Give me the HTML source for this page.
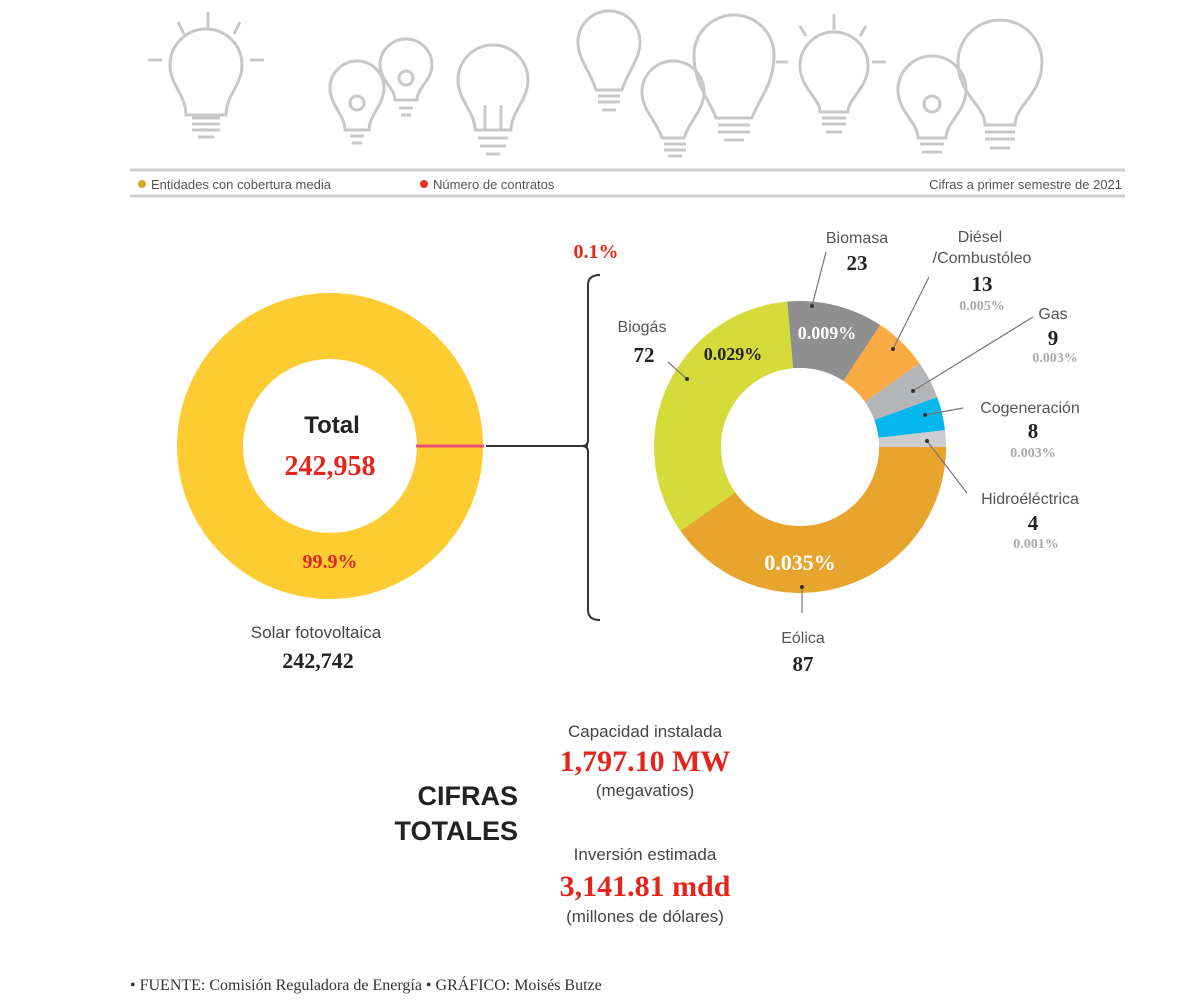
<!DOCTYPE html>
<html><head><meta charset="utf-8"><style>
body{margin:0;width:1200px;height:1000px;background:#fff;overflow:hidden}
svg text{font-family:"Liberation Sans",sans-serif}
svg text.s, svg .s text{font-family:"Liberation Serif",serif;font-weight:bold}
</style></head><body>
<svg width="1200" height="1000" viewBox="0 0 1200 1000">
<g fill="none" stroke="#c8c8c8" stroke-width="3">
 <path d="M186,115 C186,95 170,85 170,65 A36,36 0 1 1 242,65 C242,85 226,95 226,115 Z"/><path d="M192,118h28M192,124h28M192,130h28M198,137h16"/>
 <path d="M208,12v16M178,22l6,12M240,22l-6,12M148,60h14M250,60h14"/>
 <path d="M345,130 C345,115 330,105 330,88 A27,27 0 1 1 384,88 C384,105 369,115 369,130 Z"/><circle cx="357" cy="103" r="7"/><path d="M350,136h14M352,143h10"/>
 <path d="M395,100 C395,88 380,80 380,65 A26,26 0 1 1 432,65 C432,80 417,88 417,100 Z"/><circle cx="406" cy="78" r="7"/><path d="M399,108h14M401,115h10"/>
 <path d="M475,130 C475,112 458,100 458,80 A35,35 0 1 1 528,80 C528,100 511,112 511,130 Z"/><path d="M485,130v-25M501,130v-25"/><path d="M478,138h30M480,146h26M486,154h14"/>
 <path d="M596,90 C590,70 578,60 578,42 A30,30 0 1 1 640,42 C640,60 628,70 622,90 Z"/><path d="M598,96h22M598,102h22M602,110h14"/>
 <path d="M662,138 C656,120 642,110 642,92 A30,30 0 1 1 704,92 C704,110 690,120 684,138 Z"/><path d="M664,144h22M664,150h22M668,156h14"/>
 <path d="M716,118 C710,100 694,85 694,55 A40,40 0 1 1 774,55 C774,85 758,100 752,118 Z"/><path d="M718,125h32M718,132h32M724,140h20"/>
 <path d="M820,112 C820,98 800,88 800,66 A34,34 0 1 1 868,66 C868,88 848,98 848,112 Z"/><path d="M822,118h24M822,124h24M826,132h16"/>
 <path d="M834,14v16M800,26l6,10M866,26l-6,10M776,62h12M872,62h14"/>
 <path d="M918,138 C918,122 898,112 898,90 A34,34 0 1 1 966,90 C966,112 946,122 946,138 Z"/><circle cx="932" cy="104" r="8"/><path d="M920,144h24M922,152h20"/>
 <path d="M985,125 C985,105 958,95 958,62 A40,40 0 1 1 1042,62 C1042,95 1015,105 1015,125 Z"/><path d="M985,132h30M985,139h30M990,148h20"/>
</g>
<line x1="130" y1="170" x2="1125" y2="170" stroke="#d0d0d0" stroke-width="3"/>
<line x1="130" y1="196" x2="1125" y2="196" stroke="#d0d0d0" stroke-width="3"/>
<circle cx="142" cy="184" r="4" fill="#d4a72c"/><text x="151" y="189" font-size="13" fill="#555">Entidades con cobertura media</text>
<circle cx="424" cy="184" r="4" fill="#e8301f"/><text x="433" y="189" font-size="13" fill="#555">Número de contratos</text>
<text x="1122" y="189" font-size="13" fill="#555" text-anchor="end">Cifras a primer semestre de 2021</text>

<circle cx="330" cy="446" r="120" fill="none" stroke="#fdcc33" stroke-width="66"/>
<line x1="416" y1="446" x2="484" y2="446" stroke="#e8507a" stroke-width="3"/>
<text x="332" y="433" font-size="24" font-weight="bold" fill="#222" text-anchor="middle">Total</text>
<text x="330" y="475" class="s" font-size="28" fill="#e3261c" text-anchor="middle">242,958</text>
<text x="330" y="568" class="s" font-size="20" fill="#e3261c" text-anchor="middle">99.9%</text>
<text x="316" y="638" font-size="17" fill="#444" text-anchor="middle">Solar fotovoltaica</text>
<text x="318" y="668" class="s" font-size="22" fill="#222" text-anchor="middle">242,742</text>
<line x1="486" y1="446" x2="588" y2="446" stroke="#333" stroke-width="2"/>
<path d="M600,275 Q588,275 588,285 L588,440 Q588,446 582,446 Q588,446 588,452 L588,610 Q588,620 600,620" fill="none" stroke="#333" stroke-width="2"/>
<text x="596" y="258" class="s" font-size="20" fill="#e3261c" text-anchor="middle">0.1%</text>

<g id="rd"></g>
<circle cx="800" cy="447" r="79" fill="#fff"/>
<g stroke="#777" stroke-width="1.2" fill="none">
<path d="M802,587v26M687,379l-19,-17M812,306l14,-54M893,349l36,-72M913,391l120,-74M925,415l38,-7M927,441l40,52"/>
</g>
<g fill="#333"><circle cx="802" cy="587" r="2"/><circle cx="687" cy="379" r="2"/><circle cx="812" cy="306" r="2"/><circle cx="893" cy="349" r="2"/><circle cx="913" cy="391" r="2"/><circle cx="925" cy="415" r="2"/><circle cx="927" cy="441" r="2"/></g>
<text x="827" y="339" class="s" font-size="18" fill="#fff" text-anchor="middle">0.009%</text>
<text x="733" y="360" class="s" font-size="18" fill="#222" text-anchor="middle">0.029%</text>
<text x="800" y="570" class="s" font-size="22" fill="#fff" text-anchor="middle">0.035%</text>
<g font-size="16" fill="#555" text-anchor="middle">
<text x="642" y="332">Biogás</text><text x="857" y="243">Biomasa</text><text x="980" y="242">Diésel</text><text x="982" y="263">/Combustóleo</text><text x="1053" y="319">Gas</text><text x="1030" y="413">Cogeneración</text><text x="1030" y="504">Hidroéléctrica</text><text x="803" y="643">Eólica</text>
</g>
<g class="s" font-size="21" fill="#222" text-anchor="middle">
<text x="644" y="362">72</text><text x="857" y="270">23</text><text x="982" y="291">13</text><text x="1053" y="345">9</text><text x="1033" y="438">8</text><text x="1033" y="530">4</text><text x="803" y="671">87</text>
</g>
<g class="s" font-size="14" fill="#aaa" text-anchor="middle">
<text x="982" y="310">0.005%</text><text x="1055" y="362">0.003%</text><text x="1033" y="457">0.003%</text><text x="1036" y="548">0.001%</text>
</g>

<text x="645" y="737" font-size="17" fill="#444" text-anchor="middle">Capacidad instalada</text>
<text x="645" y="771" class="s" font-size="30" fill="#e3261c" text-anchor="middle">1,797.10 MW</text>
<text x="645" y="796" font-size="17" fill="#444" text-anchor="middle">(megavatios)</text>
<text x="518" y="805" font-size="27" font-weight="bold" fill="#222" text-anchor="end">CIFRAS</text>
<text x="518" y="840" font-size="27" font-weight="bold" fill="#222" text-anchor="end">TOTALES</text>
<text x="645" y="860" font-size="17" fill="#444" text-anchor="middle">Inversión estimada</text>
<text x="645" y="896" class="s" font-size="30" fill="#e3261c" text-anchor="middle">3,141.81 mdd</text>
<text x="645" y="922" font-size="17" fill="#444" text-anchor="middle">(millones de dólares)</text>
<text x="130" y="990" font-size="16" fill="#333" style="font-family:'Liberation Serif',serif">• FUENTE: Comisión Reguladora de Energía • GRÁFICO: Moisés Butze</text>
</svg>
<script>
(function(){var g=document.getElementById('rd');var cx=800,cy=447,R=146,r=79;
var d=[[87,'#e8a52e'],[72,'#d4db3a'],[23,'#8f8f90'],[13,'#fbab44'],[9,'#b4b5b7'],[8,'#06b6ec'],[4,'#cdcdcf']];
var a=0,T=216;d.forEach(function(s){var b=a+s[0]/T*2*Math.PI;
function p(rr,t){return (cx+rr*Math.cos(t)).toFixed(1)+','+(cy+rr*Math.sin(t)).toFixed(1)}
var l=(b-a)>Math.PI?1:0;
var e=document.createElementNS('http://www.w3.org/2000/svg','path');
e.setAttribute('d','M'+p(R,a)+'A'+R+','+R+' 0 '+l+' 1 '+p(R,b)+'L'+p(r,b)+'A'+r+','+r+' 0 '+l+' 0 '+p(r,a)+'Z');
e.setAttribute('fill',s[1]);g.appendChild(e);a=b;});})();
</script>
</body></html>
